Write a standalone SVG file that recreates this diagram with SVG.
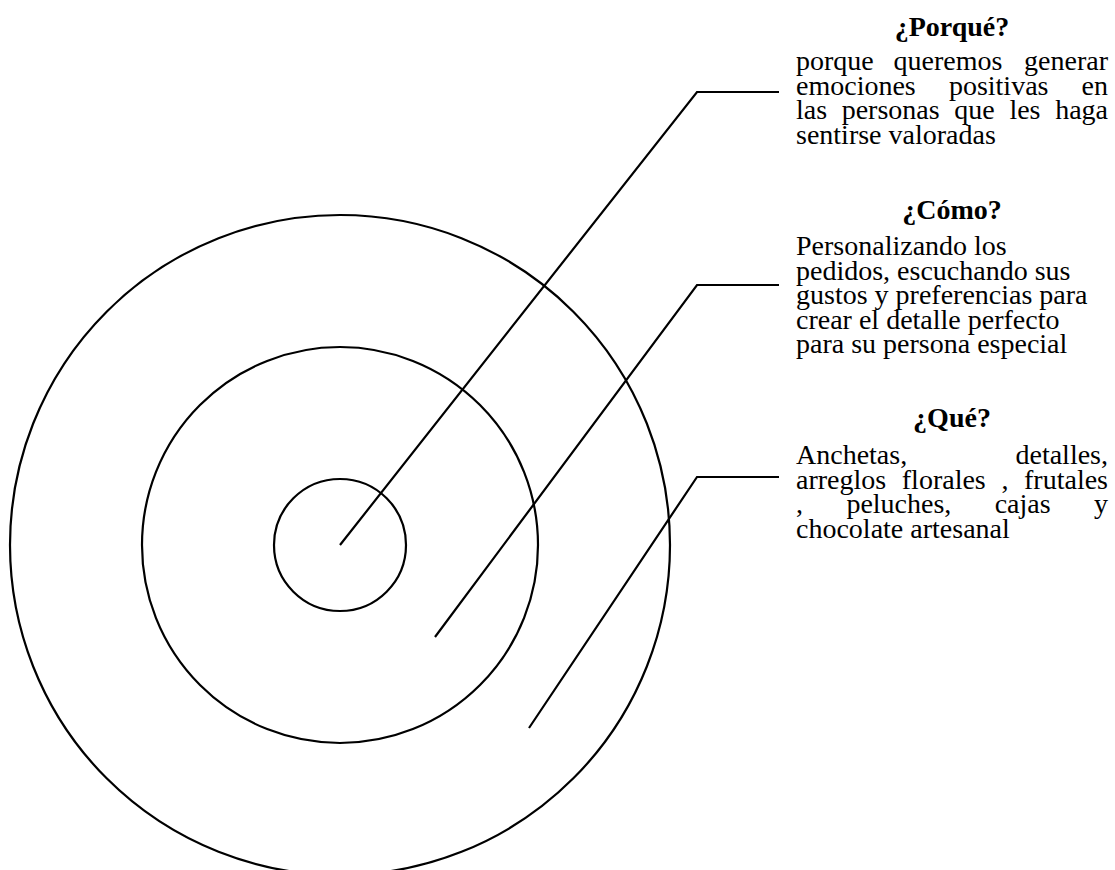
<svg xmlns="http://www.w3.org/2000/svg" width="1115" height="870" viewBox="0 0 1115 870">
<style>
.ring{fill:none;stroke:#000;stroke-width:2.2}
.conn{fill:none;stroke:#000;stroke-width:2.2;stroke-linejoin:miter}
.t{font-family:"Liberation Serif","Times New Roman",serif;font-size:28px;fill:#000}
.h{font-family:"Liberation Serif","Times New Roman",serif;font-size:28px;font-weight:bold;fill:#000;text-anchor:middle}
.e{text-anchor:end}
</style>
<rect width="1115" height="870" fill="#fff"/>
<g id="ring-outer"><circle class="ring" cx="340" cy="545" r="330"/></g>
<g id="ring-middle"><circle class="ring" cx="340" cy="545" r="198"/></g>
<g id="ring-inner"><circle class="ring" cx="340" cy="545" r="66"/></g>
<g id="connectors">
<polyline class="conn" points="340,545 697,92 779,92"/>
<polyline class="conn" points="435,637 697,285 779,285"/>
<polyline class="conn" points="529,728 697,477 779,477"/>
</g>
<g id="porque">
<text class="h" x="952" y="36">¿Porqué?</text>
<text class="t" y="70"><tspan x="796">porque</tspan><tspan x="893.5">queremos</tspan></text>
<text class="t e" x="1108" y="70">generar</text>
<text class="t" y="94.5"><tspan x="796">emociones</tspan><tspan x="948.9">positivas</tspan></text>
<text class="t e" x="1108" y="94.5">en</text>
<text class="t" y="119"><tspan x="796">las</tspan><tspan x="841.7">personas</tspan><tspan x="954.3">que</tspan><tspan x="1009.4">les</tspan></text>
<text class="t e" x="1108" y="119">haga</text>
<text class="t" x="796" y="143.5">sentirse valoradas</text>
</g>
<g id="como">
<text class="h" x="952" y="219">¿Cómo?</text>
<text class="t" x="796" y="255">Personalizando los</text>
<text class="t" x="796" y="279.5">pedidos, escuchando sus</text>
<text class="t" x="796" y="304">gustos y preferencias para</text>
<text class="t" x="796" y="328.5">crear el detalle perfecto</text>
<text class="t" x="796" y="353">para su persona especial</text>
</g>
<g id="que">
<text class="h" x="952" y="427">¿Qué?</text>
<text class="t" x="796" y="464">Anchetas,</text>
<text class="t e" x="1108" y="464">detalles,</text>
<text class="t" y="488.5"><tspan x="796">arreglos</tspan><tspan x="901.8">florales</tspan><tspan x="1001.4">,</tspan></text>
<text class="t e" x="1108" y="488.5">frutales</text>
<text class="t" y="513"><tspan x="796">,</tspan><tspan x="846.4">peluches,</tspan><tspan x="994.7">cajas</tspan></text>
<text class="t e" x="1108" y="513">y</text>
<text class="t" x="796" y="537.5">chocolate artesanal</text>
</g>
</svg>
